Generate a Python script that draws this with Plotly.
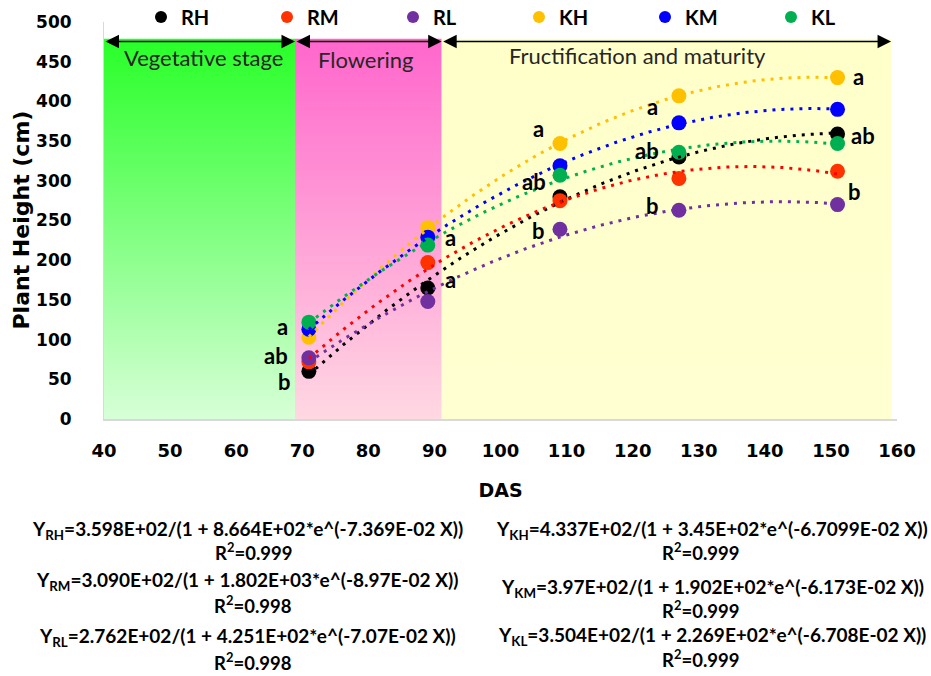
import numpy as np
import plotly.graph_objects as go

# Plant height (cm) by days after sowing for the six treatments
DAS = [71, 89, 109, 127, 151]
RH = [60, 165, 280, 330, 359]
RM = [72, 197, 275, 303, 312]
RL = [77, 148, 239, 263, 270]
KH = [103, 241, 347, 407, 430]
KM = [113, 229, 319, 373, 390]
KL = [122, 219, 307, 336, 347]

SERIES = ["RH", "RM", "RL", "KH", "KM", "KL"]
VALUES = [RH, RM, RL, KH, KM, KL]

# Growth stages (boundaries in DAS) and their names
STAGE_NAMES = ["Vegetative stage", "Flowering", "Fructification and maturity"]
STAGE_BOUNDS = [40, 68.9, 91.1, 159.1]

# Mean separation letters
LETTERS = ["a", "ab", "b", "a", "a", "a", "ab", "b", "a", "ab", "b", "a", "ab", "b"]

# Fitted growth models shown under the chart
EQUATIONS = [
    "Y<sub>RH</sub>=3.598E+02/(1 + 8.664E+02*e^(-7.369E-02 X))",
    "Y<sub>RM</sub>=3.090E+02/(1 + 1.802E+03*e^(-8.97E-02 X))",
    "Y<sub>RL</sub>=2.762E+02/(1 + 4.251E+02*e^(-7.07E-02 X))",
    "Y<sub>KH</sub>=4.337E+02/(1 + 3.45E+02*e^(-6.7099E-02 X))",
    "Y<sub>KM</sub>=3.97E+02/(1 + 1.902E+02*e^(-6.173E-02 X))",
    "Y<sub>KL</sub>=3.504E+02/(1 + 2.269E+02*e^(-6.708E-02 X))",
]
R2 = ["0.999", "0.998", "0.998", "0.999", "0.999", "0.999"]

# ---- styling ----
MARKER_COLORS = ["#000000", "#FF3300", "#7030A0", "#FFC000", "#0000FF", "#00B050"]
LINE_COLORS = ["#000000", "#FF0000", "#7030A0", "#FFC000", "#0000FF", "#00B050"]
STAGE_FILLS = [
    [[0, "#D8FFD8"], [1, "#28FF28"]],
    [[0, "#FFD8E2"], [1, "#FF66CC"]],
    [[0, "#FFFFD2"], [1, "#FFFFCA"]],
]
STAGE_TOP = 479
ARROW_Y = 475.5
STAGE_LABEL_POS = [(55.0, 455), (79.6, 452.5), (120.8, 458)]
LETTER_POS = [
    (67.0, 117), (66.1, 80.5), (67.3, 47),
    (92.5, 228), (92.5, 176),
    (105.7, 366), (105.0, 299), (105.8, 238),
    (123.0, 394), (122.1, 338), (123.0, 269),
    (154.2, 431), (154.8, 357), (153.6, 286),
]
# (equation centre x, y, R² centre x, y) in pixels
EQ_POS = [
    (247, 530, 253, 551),
    (247, 581, 253, 604),
    (247, 637, 253, 662),
    (712, 530, 700, 551),
    (712, 588, 700, 609),
    (712, 636, 700, 658),
]
YTITLE_X = 21

W, H = 931, 676
ML, MR, MT, MB = 104, 34, 22, 257
PW, PH = W - ML - MR, H - MT - MB
FONT = "Lato, 'Open Sans', sans-serif"
AXFONT = "'DejaVu Sans', Lato, sans-serif"


def px_x(p):
    return (p - ML) / PW


def px_y(p):
    return (H - MB - p) / PH


fig = go.Figure()

# stage background bands
for i in range(3):
    x0, x1 = STAGE_BOUNDS[i], STAGE_BOUNDS[i + 1]
    fig.add_trace(go.Scatter(
        x=[x0, x1, x1, x0, x0], y=[0, 0, STAGE_TOP, STAGE_TOP, 0],
        fill="toself", mode="lines", line=dict(width=0),
        fillgradient=dict(type="vertical", colorscale=STAGE_FILLS[i]),
        showlegend=False, hoverinfo="skip",
    ))

# observed means
for name, vals, col in zip(SERIES, VALUES, MARKER_COLORS):
    fig.add_trace(go.Scatter(
        x=DAS, y=vals, mode="markers", name=name,
        marker=dict(size=15, color=col),
    ))

# quadratic trend lines through each series
xs = np.linspace(DAS[0], DAS[-1], 200)
for name, vals, col in zip(SERIES, VALUES, LINE_COLORS):
    coef = np.polyfit(DAS, vals, 2)
    fig.add_trace(go.Scatter(
        x=xs, y=np.polyval(coef, xs), mode="lines",
        line=dict(color=col, width=3, dash="3px,6px"),
        showlegend=False, hoverinfo="skip",
    ))

ann = []
# stage arrows and names
for i in range(3):
    x0, x1 = STAGE_BOUNDS[i], STAGE_BOUNDS[i + 1]
    ann.append(dict(
        x=x1, y=ARROW_Y, ax=x0, ay=ARROW_Y, xref="x", yref="y",
        axref="x", ayref="y", text="", showarrow=True,
        arrowhead=2, startarrowhead=2, arrowside="end+start",
        arrowwidth=1.5, arrowsize=1.8, startarrowsize=1.8, arrowcolor="#000000",
    ))
    lx, ly = STAGE_LABEL_POS[i]
    ann.append(dict(
        x=lx, y=ly, xref="x", yref="y", text=STAGE_NAMES[i], showarrow=False,
        xanchor="center", yanchor="middle",
        font=dict(family=FONT, size=22, color="#262626"),
    ))

for t, (lx, ly) in zip(LETTERS, LETTER_POS):
    ann.append(dict(
        x=lx, y=ly, xref="x", yref="y", text=t, showarrow=False,
        xanchor="center", yanchor="middle",
        font=dict(family=FONT, size=22, color="#000000", weight="bold"),
    ))

for eq, r2, (ex, ey, rx, ry) in zip(EQUATIONS, R2, EQ_POS):
    ann.append(dict(
        x=px_x(ex), y=px_y(ey), xref="paper", yref="paper", text=eq,
        xanchor="center", yanchor="middle", showarrow=False,
        font=dict(family=FONT, size=19, color="#000000", weight="bold"),
    ))
    ann.append(dict(
        x=px_x(rx), y=px_y(ry), xref="paper", yref="paper",
        text="R<sup>2</sup>=" + r2, xanchor="center", yanchor="middle",
        showarrow=False,
        font=dict(family=FONT, size=18.5, color="#000000", weight="bold"),
    ))

# y-axis title
ann.append(dict(
    x=px_x(YTITLE_X), y=0.5, xref="paper", yref="paper",
    text="Plant Height (cm)", textangle=-90, showarrow=False,
    xanchor="center", yanchor="middle",
    font=dict(family=AXFONT, size=22, color="#000000", weight="bold"),
))

fig.update_layout(
    width=W, height=H,
    margin=dict(l=ML, r=MR, t=MT, b=MB, autoexpand=False),
    paper_bgcolor="white", plot_bgcolor="white",
    font=dict(family=FONT, color="#000000"),
    annotations=ann,
    showlegend=True,
    legend=dict(
        orientation="h", x=px_x(141), xanchor="left",
        y=px_y(17), yanchor="middle",
        entrywidth=81, entrywidthmode="pixels",
        font=dict(family=FONT, size=20, weight="bold"),
        bgcolor="rgba(0,0,0,0)", itemsizing="constant",
    ),
    xaxis=dict(
        range=[40, 160], dtick=10, showgrid=False, zeroline=False,
        showline=True, linecolor="#D9D9D9", linewidth=2,
        ticks="outside", ticklen=0, ticklabelstandoff=14,
        tickfont=dict(family=AXFONT, size=18, weight="bold"),
        title=dict(text="DAS", standoff=24,
                   font=dict(family=AXFONT, size=19, weight="bold")),
    ),
    yaxis=dict(
        range=[0, 500], dtick=50, showgrid=False, zeroline=False,
        showline=True, linecolor="#D9D9D9", linewidth=1,
        ticks="outside", ticklen=0, ticklabelstandoff=28,
        tickfont=dict(family=AXFONT, size=17, weight="bold"),
    ),
)

fig.write_html("out.html")
